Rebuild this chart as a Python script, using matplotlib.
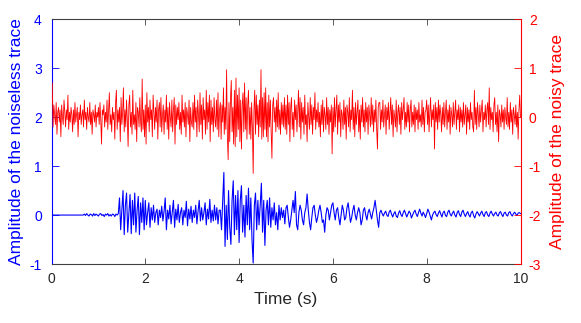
import numpy as np
import matplotlib
matplotlib.use("Agg")
import matplotlib.pyplot as plt

plt.rcParams['font.family'] = ['Liberation Sans', 'DejaVu Sans']
plt.rcParams['axes.unicode_minus'] = False

dt_clean = 0.025
dt_noisy = 1.0 / 60.0

# Noiseless trace (left axis), one sample every 0.025 s
clean_0 = [0.0] * 28 + [0.02, -0.01, 0.03, 0.0, -0.02, 0.02, 0.01, -0.02, 0.03, -0.01, 0.02, 0.0]
clean_1 = [-0.02, 0.02, 0.03, -0.01, 0.01, -0.03, 0.02, 0.0, 0.03, -0.02, 0.01, -0.02, 0.02, 0.01, -0.03, 0.02, 0.0, 0.03,
           0.35, -0.3, 0.1, 0.5, -0.4, 0.2, 0.45, -0.35, 0.05, 0.42, -0.38, 0.3, -0.2, 0.45, -0.35, 0.1, 0.38, -0.4, 0.25, -0.15, 0.35, -0.3]
clean_2 = [0.3, -0.2, 0.05, 0.25, -0.25, 0.15, -0.1, 0.2, -0.15, 0.05, 0.12, -0.2, 0.1, -0.05, 0.18, -0.12, 0.08, 0.35, -0.3, 0.1,
           -0.08, 0.2, -0.18, 0.05, 0.3, -0.25, 0.12, -0.1, 0.22, -0.15, 0.05, 0.15, -0.2, 0.1, -0.05, 0.28, -0.22, 0.12, -0.08, 0.18]
clean_3 = [-0.15, 0.1, -0.05, 0.2, -0.18, 0.08, 0.3, -0.12, 0.15, -0.1, 0.05, 0.25, -0.2, 0.12, -0.08, 0.32, -0.15, 0.1, -0.12, 0.2,
           -0.1, 0.15, -0.18, 0.1,
           0.1, -0.3, 0.3, 0.87, -0.64, 0.2, -0.5, 0.5, -0.25, -0.6, 0.3, 0.7, -0.4, 0.4, -0.3, 0.5]
clean_4 = [-0.56, 0.3, 0.6, -0.35, 0.2, -0.45, 0.4, -0.2, 0.55, -0.3, 0.35, -0.5, -0.98, 0.2, 0.45, -0.3, 0.3, -0.2, 0.2, 0.65,
           -0.35, 0.3, -0.62, 0.1, 0.3, -0.2,
           0.35, -0.25, 0.15, -0.1, 0.25, -0.2, 0.05, -0.3, 0.2, -0.1, 0.15, -0.05, 0.1, -0.18]
clean_5 = [0.15, 0.2, -0.05, -0.25, -0.1, 0.1, 0.3, 0.05, 0.48, -0.2, -0.3, 0.05, 0.2, 0.1, -0.1, -0.2, 0.05, 0.15, 0.43, 0.1,
           -0.15, -0.3, -0.05, 0.15, 0.2, 0.0, -0.15, -0.05, 0.1, 0.2, 0.05, -0.15, -0.1, -0.35, 0.0, 0.15, 0.1, -0.1, 0.05, 0.2]
clean_6 = [0.25, 0.05, -0.1, 0.1, 0.15, -0.05, -0.2, 0.0, 0.2, 0.1, -0.1, -0.05, 0.15, 0.25, 0.05, -0.15, -0.05, 0.1, 0.2, 0.0,
           -0.1, 0.05, 0.15, 0.05, -0.2, -0.1, 0.1, 0.15, 0.0, -0.1, 0.05, 0.12, 0.02, -0.08, 0.05, 0.15, 0.3, 0.1, -0.1, -0.25]
clean_7 = [0.05, 0.1, 0.03, -0.02, 0.04, 0.08, 0.0, -0.03, 0.06, 0.1, 0.02, -0.04, 0.03, 0.07, -0.02, -0.05, 0.04, 0.09, 0.01, -0.03,
           0.05, 0.1, 0.03, -0.04, 0.02, 0.08, 0.04, -0.06, 0.0, 0.06, 0.1, 0.02, -0.03, 0.05, 0.12, 0.04, -0.02, 0.06, 0.01, -0.05]
clean_8 = [0.03, 0.12, 0.06, -0.02, -0.1, 0.0, 0.05, 0.08, 0.01, -0.03, 0.04, 0.09, 0.02, -0.04, 0.05, 0.08, -0.01, -0.03, 0.06, 0.1,
           0.02, -0.02, 0.04, 0.08, 0.0, -0.04, 0.05, 0.09, 0.01, -0.03, 0.06, 0.1, 0.02, -0.03, 0.03, 0.07, 0.0, -0.04, 0.05, 0.08]
clean_9 = [-0.01, -0.06, 0.02, 0.07, 0.03, -0.02, 0.04, 0.08, 0.01, -0.03, 0.05, 0.07, 0.0, -0.03, 0.04, 0.08, 0.02, -0.02, 0.03, 0.06,
           0.0, -0.02, 0.05, 0.07, 0.01, -0.03, 0.04, 0.06, 0.0, -0.02, 0.05, 0.07, 0.01, -0.02, 0.03, 0.06, 0.02, -0.01, 0.04, 0.05, 0.03]

# Noisy trace (right axis), in hundredths, one sample every 1/60 s
noisy_0 = [10, 70, -20, 25, 5, -15, 30, -35, 10, 20, -10, 15, -40, 25, 0, -15, 35, 10, -20, 15, -5, 45, -25, 10, -10, 20, 5, -30, 15, -15,
           30, -10, 5, 20, -40, 10, -5, 25, -15, 5, 15, -20, 35, -5, 10, -25, 20, 0, -10, 30, -15, 10, -35, 15, 5, -10, 25, -20, 10, 0]
noisy_1 = [20, -15, 30, -5, -55, 15, 5, 25, -20, 10, -10, 35, -25, 15, 50, -15, 5, -30, 20, -5, 10, -45, 30, 55, -25, 15, -10, 20, -50, 40,
           -15, 10, 60, -30, 15, -20, 35, -5, -60, 25, 45, -20, 10, -35, 55, -15, 5, -25, 30, -50, 20, 10, -20, 40, -10, -30, 78, -25, 15, -40]
noisy_2 = [25, -55, 50, -10, 20, -30, 35, -5, 15, -40, 45, 10, -25, 20, -10, 35, -45, 15, 30, -20, 40, -30, 5, 25, -35, 15, -10, 45, -25, 20,
           -45, 30, 0, -20, 35, -30, 15, 40, -55, 25, -15, 20, -5, 30, -25, 10, -35, 45, -10, 15, -20, 30, -40, 20, 5, -15, 35, -50, 20, -10]
noisy_3 = [-20, 30, -25, 45, -10, 20, -40, 35, 5, -30, 50, -15, 25, -45, 40, -5, 15, -35, 55, -25, 30, -10, 45, -50, 35, -15, 20, -30, 40, -5,
           -20, 35, -25, 50, -40, 15, 30, -45, 25, -10, 60, -35, 20, -25, 97, -40, -87, 30, -50, 40, 75, -30, 20, -55, 55, -60, 80, -40, 45, -25]
noisy_4 = [60, -50, 35, -65, 25, 50, -30, 70, -25, 40, -45, 25, 55, -35, 20, -45, 30, -20, -115, 15, 55, -35, 45, -15, 25, -40, 35, -20, 97, -45,
           40, -40, 50, -25, 60, -40, 30, -50, 45, -20, 35, -30, -84, 25, 40, -10, 20, -30, 35, -20, 50, -25, 15, -35, 30, -15, 25, -20, 40, -25]
noisy_5 = [25, -35, 45, -15, 30, -50, 20, 40, -25, 10, -40, 35, -5, 25, -30, 15, 55, -20, 40, -45, 30, -10, 20, -35, 45, -15, 5, -50, 30, 0,
           -25, 40, -15, 25, -35, 20, -5, 50, -25, 15, -10, 30, -20, 10, -40, 25, -15, 35, -30, 20, 5, -25, 40, -15, 20, -35, 15, -10, 25, -75]
noisy_6 = [20, -30, 40, -20, 15, 45, -35, 25, -10, 30, -40, 15, 5, -25, 35, -15, 20, -45, 25, 10, -20, 40, -30, 15, -5, 55, -25, 20, -40, 30,
           -15, 10, 35, -30, 15, -45, 25, -10, 40, -20, 15, -30, 30, -10, 20, -35, 25, 5, -20, 40, -15, 25, -30, 15, -10, 35, -25, -65, 20, 30]
noisy_7 = [30, -25, 15, -10, 35, -20, 5, 25, -35, 20, -5, 30, -25, 10, 40, -15, 25, -40, 15, 0, -20, 35, -30, 10, 25, -15, 20, -35, 30, -5,
           15, 40, -25, 10, -20, 30, -10, 25, -30, 15, 35, -20, 10, -15, 25, -30, 20, -5, 15, -25, 30, -10, 5, -20, 35, -15, 20, -30, 10, 15]
noisy_8 = [35, -15, 25, -30, 10, 40, -20, 15, -5, 25, -65, 30, -10, 20, -25, 35, -10, 25, 5, -30, 20, -15, 30, -20, 10, 35, -25, 15, -10, 25,
           -35, 20, 5, -20, 30, -15, 10, 35, -25, 15, -5, 25, -30, 20, -10, 15, -20, 30, -15, 5, 25, -35, 20, -10, 15, -25, 30, -5, 10, -20]
noisy_9 = [-30, 55, -15, 20, -25, 30, 5, -20, 25, -10, 15, 35, -30, 10, -5, 25, -20, 15, 30, -15, 60, -25, 20, -5, 10, -30, 25, 40, -15, 10,
           -30, 25, -50, 15, 5, -20, 25, -10, 15, -25, 20, 0, -15, 40, -20, 10, -25, 30, -10, 15, -35, 20, 5, -15, 25, -20, 10, -45, 15, 45, 0]

x_ticks = [0, 2, 4, 6, 8, 10]
left_ticks = [-1, 0, 1, 2, 3, 4]
right_ticks = [-3, -2, -1, 0, 1, 2]

clean = np.array(clean_0 + clean_1 + clean_2 + clean_3 + clean_4 + clean_5 + clean_6 + clean_7 + clean_8 + clean_9)
noisy = np.array(noisy_0 + noisy_1 + noisy_2 + noisy_3 + noisy_4 + noisy_5 + noisy_6 + noisy_7 + noisy_8 + noisy_9) / 100.0
t_clean = np.arange(len(clean)) * dt_clean
t_noisy = np.arange(len(noisy)) * dt_noisy

W, H = 581, 323
fig = plt.figure(figsize=(W / 100, H / 100), dpi=100)
l, r, b, t = 51.5 / W, 520.5 / W, (H - 264) / H, (H - 19.3) / H
ax = fig.add_axes([l, b, r - l, t - b])
ax2 = ax.twinx()

ax.plot(t_clean, clean, color='blue', lw=0.8)
ax2.plot(t_noisy, noisy, color='red', lw=0.6)

ax.set_xlim(0, 10)
ax.set_ylim(-1, 4)
ax2.set_ylim(-3, 2)
ax.set_xticks(x_ticks)
ax.set_yticks(left_ticks)
ax2.set_yticks(right_ticks)

gray = '#404040'
for s in ['top', 'bottom']:
    ax.spines[s].set_color(gray)
    ax2.spines[s].set_visible(False)
ax.spines['left'].set_color('blue')
ax.spines['right'].set_visible(False)
ax2.spines['left'].set_visible(False)
ax2.spines['right'].set_color('red')
for sp in ax.spines.values():
    sp.set_linewidth(0.8)
ax2.spines['right'].set_linewidth(0.8)

ax.tick_params(axis='x', direction='in', top=True, length=4, width=0.6, color=gray,
               labelsize=10, labelcolor='#262626', pad=6)
ax.tick_params(axis='y', direction='in', length=5, width=0.6, color='blue',
               labelsize=10, labelcolor='blue', pad=7)
ax2.tick_params(axis='y', direction='in', length=5, width=0.6, color='red',
                labelsize=10, labelcolor='red', pad=6)

ax.set_xlabel('Time (s)', fontsize=12.5, color='#262626', labelpad=4)
ax.set_ylabel('Amplitude of the noiseless trace', fontsize=12.5, color='blue', labelpad=4)
ax2.set_ylabel('Amplitude of the noisy trace', fontsize=12.5, color='red', labelpad=6)

fig.savefig('out.png', dpi=100)
